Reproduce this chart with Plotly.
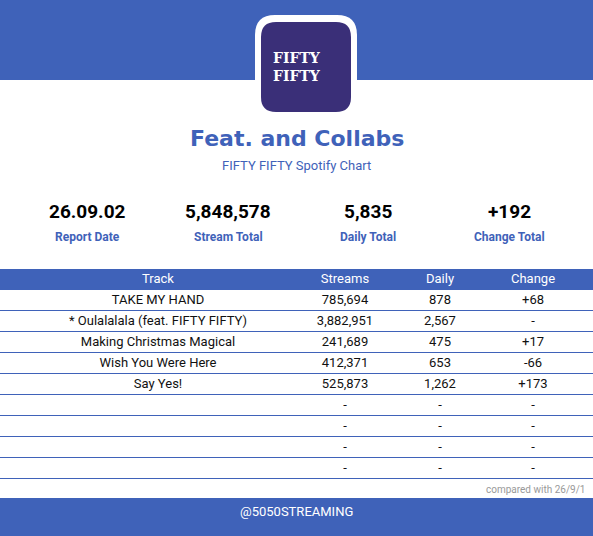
import plotly.graph_objects as go

BLUE = "#3f62b9"

tracks = ["TAKE MY HAND", "* Oulalalala (feat. FIFTY FIFTY)", "Making Christmas Magical",
          "Wish You Were Here", "Say Yes!", "", "", "", ""]
streams = ["785,694", "3,882,951", "241,689", "412,371", "525,873", "-", "-", "-", "-"]
daily = ["878", "2,567", "475", "653", "1,262", "-", "-", "-", "-"]
change = ["+68", "-", "+17", "-66", "+173", "-", "-", "-", "-"]
headers = ["Track", "Streams", "Daily", "Change"]
col_x = [158, 345, 440, 533]

stat_values = ["26.09.02", "5,848,578", "5,835", "+192"]
stat_labels = ["Report Date", "Stream Total", "Daily Total", "Change Total"]
stat_x = [0.147, 0.385, 0.62, 0.86]

W, H = 593, 536
n_rows = len(tracks) + 1
top_px, bot_px = 269, 481

fig = go.Figure()

# header cells
fig.add_trace(go.Scatter(x=col_x, y=[0] * 4, mode="text", text=headers,
                         textfont=dict(color="white", size=13, family="Roboto"),
                         hoverinfo="skip"))
# body cells
for col, xs in zip([tracks, streams, daily, change], col_x):
    fig.add_trace(go.Scatter(x=[xs] * len(col), y=list(range(1, len(col) + 1)), mode="text",
                             text=col, textfont=dict(color="#111", size=13, family="Roboto"),
                             hoverinfo="skip"))

fig.update_layout(
    width=W, height=H, margin=dict(l=0, r=0, t=0, b=0),
    paper_bgcolor="white", plot_bgcolor="rgba(0,0,0,0)", showlegend=False,
    xaxis=dict(range=[0, W], visible=False, fixedrange=True),
    yaxis=dict(range=[n_rows - 0.4, -0.5], domain=[(H - bot_px) / H, (H - top_px) / H],
               tickvals=[i + 0.5 for i in range(n_rows)], showgrid=True, gridcolor=BLUE,
               gridwidth=1, showticklabels=False, zeroline=False, ticks="", fixedrange=True),
)

shapes = [
    dict(type="rect", xref="paper", yref="paper", x0=0, x1=1, y0=1 - 80 / H, y1=1,
         fillcolor=BLUE, line_width=0, layer="below"),
    dict(type="rect", xref="x", yref="y", x0=0, x1=W, y0=-0.5, y1=0.5,
         fillcolor=BLUE, line_width=0, layer="below"),
    dict(type="rect", xref="paper", yref="paper", x0=0, x1=1, y0=0, y1=(H - 498) / H,
         fillcolor=BLUE, line_width=0, layer="below"),
]


def rrect(x0, y0, x1, y1, r):
    # pixel coords (top-left origin) -> paper
    def p(x, y):
        return f"{x / W:.5f},{1 - y / H:.5f}"
    return (f"M {p(x0 + r, y0)} L {p(x1 - r, y0)} Q {p(x1, y0)} {p(x1, y0 + r)} "
            f"L {p(x1, y1 - r)} Q {p(x1, y1)} {p(x1 - r, y1)} L {p(x0 + r, y1)} "
            f"Q {p(x0, y1)} {p(x0, y1 - r)} L {p(x0, y0 + r)} Q {p(x0, y0)} {p(x0 + r, y0)} Z")


shapes.append(dict(type="path", xref="paper", yref="paper", path=rrect(255, 15, 357, 117, 20),
                   fillcolor="white", line_width=0))
shapes.append(dict(type="path", xref="paper", yref="paper", path=rrect(261, 22, 351, 112, 15),
                   fillcolor="#3a2f78", line_width=0))
fig.update_layout(shapes=shapes)

ann = [
    dict(x=0.5, y=1 - 67 / H, text="<b>FIFTY<br>FIFTY</b>", showarrow=False,
         font=dict(color="white", size=14, family="DejaVu Serif"), yanchor="middle"),
    dict(x=0.5, y=1 - 138 / H, text="<b>Feat. and Collabs</b>", showarrow=False,
         font=dict(color=BLUE, size=22, family="DejaVu Sans"), yanchor="middle"),
    dict(x=0.5, y=1 - 166 / H, text="FIFTY FIFTY Spotify Chart", showarrow=False,
         font=dict(color=BLUE, size=13, family="Roboto"), yanchor="middle"),
    dict(x=1, y=1 - 489 / H, text="compared with 26/9/1", showarrow=False, xanchor="right",
         xshift=-6, font=dict(color="#999", size=10, family="Roboto"), yanchor="middle"),
    dict(x=0.5, y=1 - 511 / H, text="@5050STREAMING", showarrow=False,
         font=dict(color="white", size=13, family="Roboto"), yanchor="middle"),
]
for v, l, xx in zip(stat_values, stat_labels, stat_x):
    ann.append(dict(x=xx, y=1 - 212 / H, text=f"<b>{v}</b>", showarrow=False, yanchor="middle",
                    xanchor="center", font=dict(color="black", size=19, family="Roboto")))
    ann.append(dict(x=xx, y=1 - 237 / H, text=f"<b>{l}</b>", showarrow=False, yanchor="middle",
                    xanchor="center", font=dict(color=BLUE, size=12, family="Roboto")))
for a in ann:
    a.update(xref="paper", yref="paper")
fig.update_layout(annotations=ann)

fig.write_html("out.html", config={"displayModeBar": False},
               post_script="document.body.style.margin='0';document.body.style.overflow='hidden';")
